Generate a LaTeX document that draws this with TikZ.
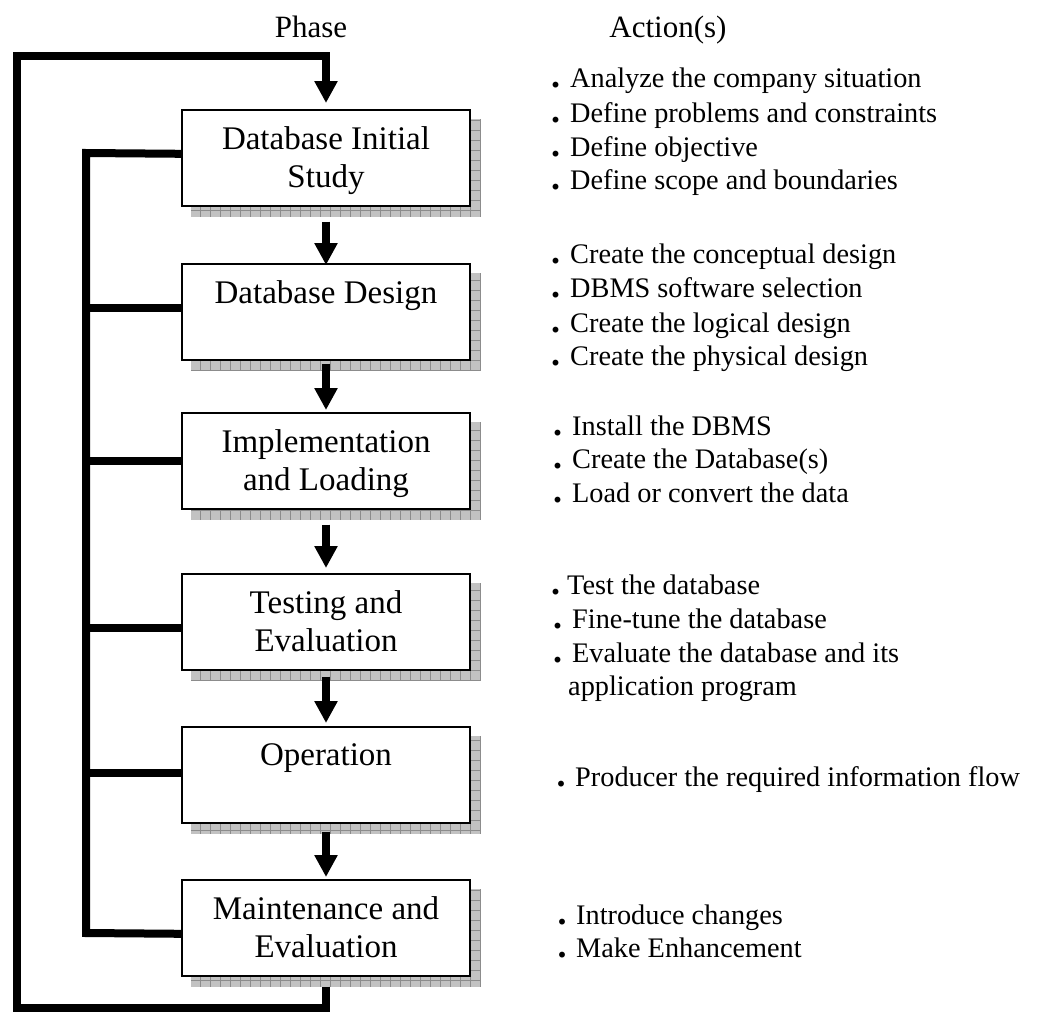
\documentclass[tikz,border=0pt]{standalone}
\usepackage{fontspec}
\setmainfont{Liberation Serif}
\usetikzlibrary{arrows.meta,backgrounds}
\newcommand\phtext[1]{\parbox[c][96pt][t]{280pt}{\centering\vspace*{17pt}#1}}
\newcommand\bul[1][10pt]{\llap{{\fontsize{36}{36}\selectfont\bfseries.}\hspace{#1}}}
\begin{document}
\begin{tikzpicture}[x=1pt,y=-1pt,
  phasebox/.style={draw=black, line width=1.6pt, fill=white, minimum width=288pt,
    minimum height=96pt, inner sep=0pt, anchor=north, font=\fontsize{33}{38}\selectfont},
  flowline/.style={line width=8pt, line join=miter},
  flowarrow/.style={flowline, -{Triangle[width=22pt,length=22pt]}},
  hdr/.style={anchor=base, inner sep=0pt, font=\fontsize{31}{36}\selectfont},
  act/.style={anchor=base west, inner sep=0pt, font=\fontsize{28.3}{34}\selectfont},
  shadowfill/.style={fill=black!24},
  shadowgrid/.style={draw=black!45, line width=0.6pt}
]
\useasboundingbox (0,0) rectangle (1039,1012);

% headers
\node[hdr] (ph) at (311,37) {Phase};
\node[hdr] (ac) at (668,37) {Action(s)};

% phase boxes
\node[phasebox] (b1) at (326,109) {\phtext{Database Initial\\Study}};
\node[phasebox] (b2) at (326,263) {\phtext{Database Design}};
\node[phasebox] (b3) at (326,412) {\phtext{Implementation\\and Loading}};
\node[phasebox] (b4) at (326,573) {\phtext{Testing and\\Evaluation}};
\node[phasebox] (b5) at (326,726) {\phtext{Operation}};
\node[phasebox] (b6) at (326,879) {\phtext{Maintenance and\\Evaluation}};

% shadows
\begin{scope}[on background layer]
\foreach \b in {b1,b2,b3,b4,b5,b6}{
  \begin{scope}
    \path[shadowfill] ([shift={(10,10)}]\b.north west) rectangle ([shift={(10,10)}]\b.south east);
    \clip ([shift={(10,10)}]\b.north west) rectangle ([shift={(10,10)}]\b.south east);
    \draw[shadowgrid, step=10pt] ([shift={(0,0)}]\b.north west) grid ([shift={(20,20)}]\b.south east);
  \end{scope}
}
\end{scope}

% arrows between phases
\draw[flowarrow] ([yshift=-15pt]b1.south) -- ([yshift=-2pt]b2.north);
\draw[flowarrow] ([yshift=-3pt]b2.south) -- ([yshift=2pt]b3.north);
\draw[flowarrow] ([yshift=-15pt]b3.south) -- ([yshift=5pt]b4.north);
\draw[flowarrow] ([yshift=-6pt]b4.south) -- ([yshift=3pt]b5.north);
\draw[flowarrow] ([yshift=-8pt]b5.south) -- ([yshift=2pt]b6.north);

% inner feedback bus
\coordinate (itop) at (86,153);
\coordinate (ibot) at (86,933);
\draw[flowline] ([yshift=4pt]b1.west) -- (itop) -- (ibot) -- ([yshift=-6pt]b6.west);
\draw[flowline] ([yshift=4pt]b2.west) -- ([yshift=4pt]b2.west -| itop);
\draw[flowline] (b3.west) -- (b3.west -| itop);
\draw[flowline] ([yshift=-6pt]b4.west) -- ([yshift=-6pt]b4.west -| itop);
\draw[flowline] ([yshift=2pt]b5.west) -- ([yshift=2pt]b5.west -| itop);

% outer loop
\coordinate (obr) at (326,1008);
\coordinate (obl) at (17,1008);
\coordinate (otl) at (17,56);
\coordinate (otr) at (326,56);
\draw[flowarrow] ([yshift=-10pt]b6.south) -- (obr) -- (obl) -- (otl) -- (otr) -- ([yshift=6pt]b1.north);

% actions
\node[act] (a11) at (570,87)  {\bul Analyze the company situation};
\node[act] (a12) at (570,122) {\bul Define problems and constraints};
\node[act] (a13) at (570,156) {\bul Define objective};
\node[act] (a14) at (570,189) {\bul Define scope and boundaries};
\node[act] (a21) at (570,263) {\bul Create the conceptual design};
\node[act] (a22) at (570,297) {\bul DBMS software selection};
\node[act] (a23) at (570,332) {\bul Create the logical design};
\node[act] (a24) at (570,365) {\bul Create the physical design};
\node[act] (a31) at (572,435) {\bul Install the DBMS};
\node[act] (a32) at (572,468) {\bul Create the Database(s)};
\node[act] (a33) at (572,502) {\bul Load or convert the data};
\node[act] (a41) at (567,594) {\bul[7pt]Test the database};
\node[act] (a42) at (572,628) {\bul Fine-tune the database};
\node[act] (a43) at (572,662) {\bul Evaluate the database and its};
\node[act] (a44) at (568,695) {application program};
\node[act] (a51) at (575,786) {\bul[9.5pt]Producer the required information flow};
\node[act] (a61) at (576,924) {\bul[9.5pt]Introduce changes};
\node[act] (a62) at (576,957) {\bul[9.5pt]Make Enhancement};
\end{tikzpicture}
\end{document}
